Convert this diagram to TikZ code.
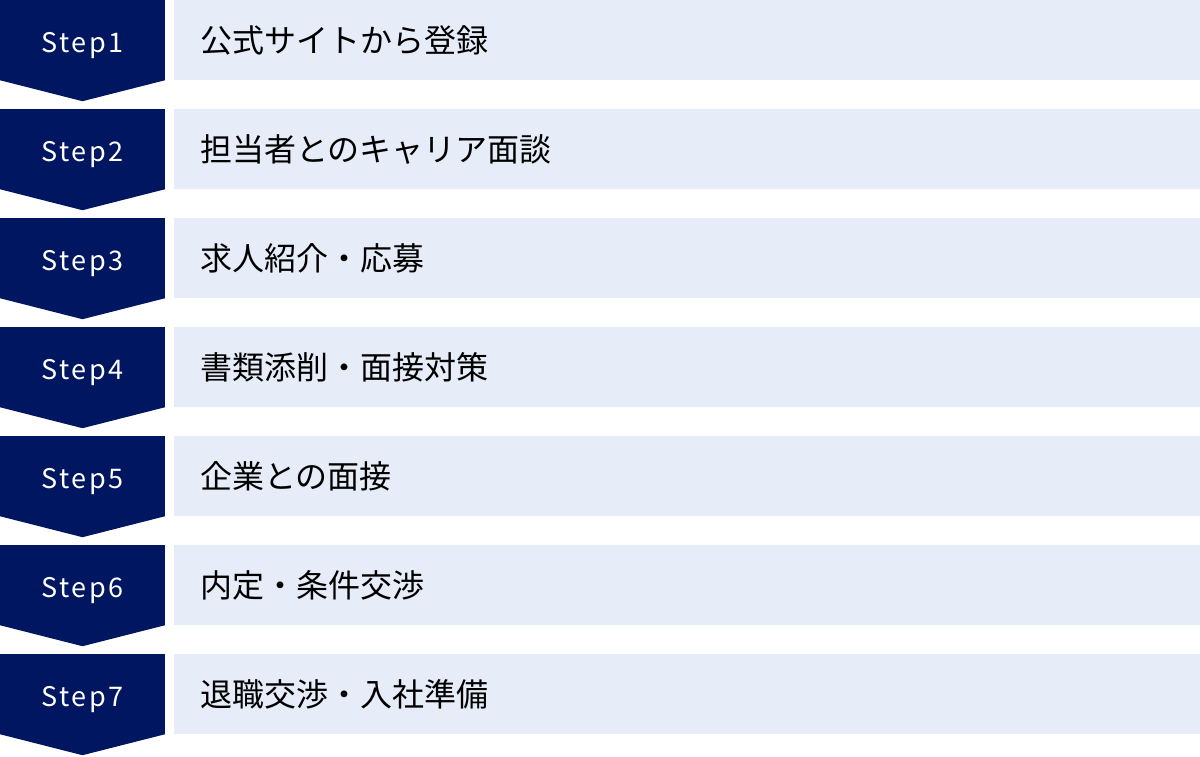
\documentclass[tikz,border=0pt]{standalone}
\usepackage{fontspec}
\setmainfont{Noto Sans CJK JP}
\newfontfamily\stepfont[LetterSpace=9]{Noto Sans CJK JP}
\usetikzlibrary{calc}
\definecolor{navy}{HTML}{001660}
\definecolor{paleblue}{HTML}{E6ECF8}
\tikzstyle{stepbox} = [rectangle, minimum width=165pt, minimum height=80pt, inner sep=0pt, text height=26pt, text depth=2pt, fill=navy, text=white, font=\stepfont\fontsize{27}{32}\selectfont]
\tikzstyle{itembox} = [rectangle, minimum width=1026pt, minimum height=80pt, inner xsep=26pt, inner ysep=0pt, text width=974pt, align=left, fill=paleblue, text=black, font=\fontsize{32}{38}\selectfont]
\tikzstyle{tip} = [fill=navy]

\begin{document}
\begin{tikzpicture}[x=1pt, y=1pt]
        \useasboundingbox (0,0) rectangle (1200,-756);
        % Steps
        \foreach \item [count=\i] in {公式サイトから登録, 担当者とのキャリア面談, 求人紹介・応募, 書類添削・面接対策, 企業との面接, 内定・条件交渉, 退職交渉・入社準備} {
            \pgfmathsetmacro{\rowy}{-109*(\i-1)-40}
            \node (step\i) [stepbox] at (82.5,\rowy) {Step\i};
            \fill [tip] (step\i.south west) -- (step\i.south east) -- ($(step\i.south)+(0,-21)$) -- cycle;
            \node (item\i) [itembox] at (687,\rowy) {\item};
        }
    \end{tikzpicture}
\end{document}
